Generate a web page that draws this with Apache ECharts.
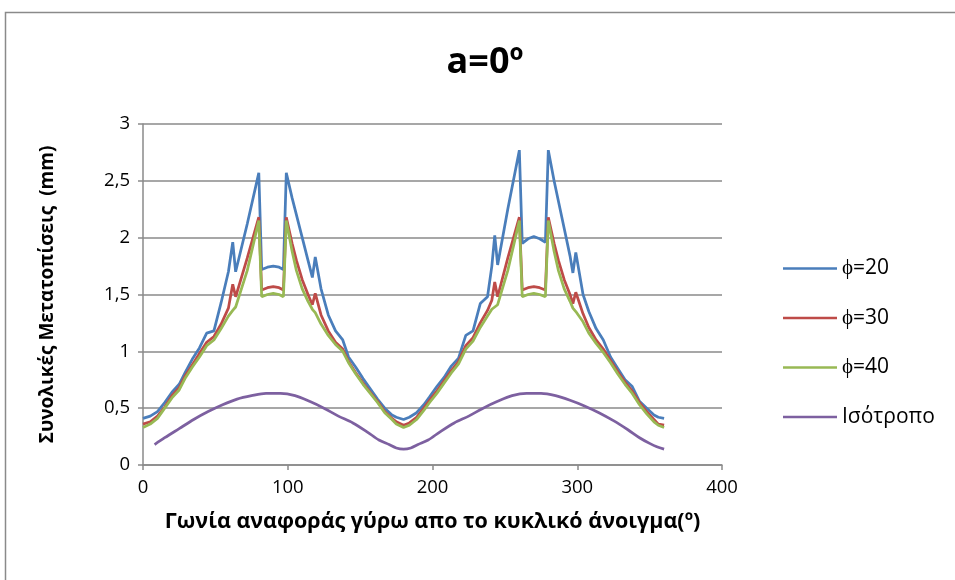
<!DOCTYPE html>
<html>
<head>
<meta charset="utf-8">
<script src="https://cdn.jsdelivr.net/npm/echarts@6/dist/echarts.min.js"></script>
<style>
  html, body { margin: 0; padding: 0; background: #fff; }
  #chart { width: 955px; height: 580px; }
</style>
</head>
<body>
<div id="chart"></div>
<script>
// Reference angle around the circular opening (degrees) for the φ series
const angles = [
  0, 5, 10, 15, 20, 25, 29, 34, 39, 44,
  49, 54, 59, 62, 64, 72, 80, 82, 86, 90,
  94, 97, 99, 103, 106, 110, 114, 117, 119, 123,
  128, 133, 138, 142, 147, 152, 157, 162, 167, 172,
  175, 180,
  184, 189, 194, 198, 203, 208, 213, 218, 223, 228,
  233, 238, 241, 243, 245, 252, 260, 262, 266, 270,
  274, 278, 280, 284, 287, 291, 295, 297, 299, 304,
  308, 313, 318, 323, 328, 333, 338, 343, 348, 353,
  356, 360
];

// Total displacements (mm), φ = 20
const phi20 = [
  0.41, 0.43, 0.47, 0.55, 0.64, 0.71, 0.81, 0.93, 1.03, 1.16,
  1.18, 1.43, 1.70, 1.96, 1.70, 2.12, 2.57, 1.72, 1.74, 1.75,
  1.74, 1.72, 2.57, 2.35, 2.20, 2.00, 1.80, 1.65, 1.83, 1.55,
  1.32, 1.18, 1.10, 0.95, 0.86, 0.76, 0.67, 0.58, 0.50, 0.44,
  0.42, 0.40,
  0.42, 0.46, 0.53, 0.60, 0.69, 0.77, 0.87, 0.94, 1.14, 1.18,
  1.42, 1.48, 1.75, 2.02, 1.76, 2.25, 2.77, 1.95, 1.99, 2.01,
  1.99, 1.96, 2.77, 2.50, 2.32, 2.08, 1.84, 1.69, 1.87, 1.50,
  1.35, 1.20, 1.10, 0.95, 0.85, 0.75, 0.69, 0.56, 0.50, 0.44,
  0.42, 0.41
];

// Total displacements (mm), φ = 30
const phi30 = [
  0.36, 0.38, 0.43, 0.51, 0.61, 0.68, 0.78, 0.88, 0.98, 1.08,
  1.13, 1.24, 1.38, 1.59, 1.48, 1.82, 2.18, 1.54, 1.56, 1.57,
  1.56, 1.54, 2.18, 1.95, 1.80, 1.63, 1.50, 1.41, 1.51, 1.32,
  1.18, 1.08, 1.02, 0.91, 0.81, 0.72, 0.64, 0.56, 0.47, 0.41,
  0.38, 0.35,
  0.37, 0.42, 0.50, 0.57, 0.65, 0.74, 0.83, 0.91, 1.05, 1.12,
  1.25, 1.36, 1.45, 1.61, 1.48, 1.82, 2.18, 1.54, 1.56, 1.57,
  1.56, 1.54, 2.18, 1.95, 1.80, 1.63, 1.50, 1.42, 1.52, 1.33,
  1.21, 1.10, 1.02, 0.92, 0.82, 0.73, 0.65, 0.55, 0.47, 0.40,
  0.36, 0.35
];

// Total displacements (mm), φ = 40
const phi40 = [
  0.33, 0.36, 0.41, 0.50, 0.59, 0.66, 0.76, 0.86, 0.95, 1.05,
  1.10, 1.20, 1.31, 1.36, 1.39, 1.71, 2.15, 1.48, 1.50, 1.51,
  1.50, 1.48, 2.15, 1.88, 1.71, 1.55, 1.44, 1.37, 1.34, 1.24,
  1.14, 1.06, 1.00, 0.90, 0.80, 0.71, 0.63, 0.55, 0.46, 0.40,
  0.36, 0.33,
  0.35, 0.40, 0.48, 0.55, 0.63, 0.72, 0.81, 0.89, 1.02, 1.09,
  1.21, 1.31, 1.37, 1.39, 1.41, 1.71, 2.15, 1.48, 1.50, 1.51,
  1.50, 1.48, 2.15, 1.88, 1.71, 1.55, 1.44, 1.38, 1.35, 1.26,
  1.16, 1.07, 0.99, 0.90, 0.80, 0.71, 0.63, 0.53, 0.45, 0.38,
  0.35, 0.33
];

// Isotropic case: its own angle sampling and displacements (mm)
const isoAngles = [
  8, 15, 25, 35, 45, 55, 65, 75, 85, 95,
  105, 115, 125, 135, 145, 155, 163, 170, 175, 180,
  185, 190, 197, 205, 215, 225, 235, 245, 255, 265,
  275, 285, 295, 305, 315, 325, 335, 343, 350, 355,
  360
];
const isotropic = [
  0.18, 0.24, 0.32, 0.40, 0.47, 0.53, 0.58, 0.61, 0.63, 0.63,
  0.61, 0.56, 0.50, 0.43, 0.37, 0.29, 0.22, 0.18, 0.15, 0.14,
  0.15, 0.18, 0.22, 0.29, 0.37, 0.43, 0.50, 0.56, 0.61, 0.63,
  0.63, 0.61, 0.57, 0.52, 0.46, 0.39, 0.31, 0.24, 0.19, 0.16,
  0.14
];

const seriesNames = ['ϕ=20', 'ϕ=30', 'ϕ=40', 'Ισότροπο'];
const seriesColors = ['#4a7ebb', '#be4b48', '#98b954', '#7d60a0'];
const yTicks = [0, 0.5, 1, 1.5, 2, 2.5, 3];
const xTicks = [0, 100, 200, 300, 400];

const pairs = (xs, ys) => xs.map((x, i) => [x, ys[i]]);
const FONT = 'Open Sans';
const GRID = '#8a8a8a';

const lineSeries = (name, xs, ys, idx, smooth) => ({
  name: name,
  type: 'line',
  data: pairs(xs, ys),
  symbol: 'none',
  smooth: smooth,
  lineStyle: { width: 2.75, color: seriesColors[idx] },
  itemStyle: { color: seriesColors[idx] },
  emphasis: { disabled: true },
  animation: false
});

const chart = echarts.init(document.getElementById('chart'), null, { renderer: 'canvas' });
chart.setOption({
  animation: false,
  backgroundColor: '#fff',
  textStyle: { fontFamily: FONT },
  graphic: [{
    type: 'rect',
    shape: { x: 5.5, y: 12.5, width: 980, height: 620 },
    style: { fill: 'none', stroke: '#8a8a8a', lineWidth: 1.5 },
    silent: true
  }],
  title: {
    text: 'a=0º',
    left: 480,
    textAlign: 'center',
    top: 40,
    textStyle: { fontFamily: FONT, fontSize: 36, fontWeight: 'bold', color: '#000' }
  },
  legend: {
    orient: 'vertical',
    left: 783,
    top: 258,
    padding: 0,
    itemWidth: 54,
    itemHeight: 20,
    itemGap: 28.5,
    icon: 'path://M0,9 L54,9 L54,11.5 L0,11.5 Z',
    data: seriesNames,
    textStyle: { fontFamily: FONT, fontSize: 21, color: '#000' },
    selectedMode: false
  },
  grid: { left: 143, right: 233, top: 124, bottom: 115, containLabel: false },
  xAxis: {
    type: 'value',
    min: 0, max: 400, interval: 100,
    name: 'Γωνία αναφοράς γύρω απο το κυκλικό άνοιγμα(º)',
    nameLocation: 'middle',
    nameGap: 46,
    nameTextStyle: { fontFamily: FONT, fontSize: 21.5, fontWeight: 'bold', color: '#000' },
    axisLine: { show: true, onZero: false, lineStyle: { color: GRID, width: 1.5 } },
    axisTick: { show: true, length: 5, lineStyle: { color: GRID, width: 1.5 } },
    axisLabel: {
      margin: 13, fontFamily: FONT, fontSize: 18.5, color: '#000',
      formatter: v => xTicks.includes(v) ? String(v) : ''
    },
    splitLine: { show: false }
  },
  yAxis: {
    type: 'value',
    min: 0, max: 3, interval: 0.5,
    name: 'Συνολικές Μετατοπίσεις  (mm)',
    nameLocation: 'middle',
    nameGap: 86,
    nameTextStyle: { fontFamily: FONT, fontSize: 19, fontWeight: 'bold', color: '#000' },
    axisLine: { show: true, lineStyle: { color: GRID, width: 1.5 } },
    axisTick: { show: true, length: 5, lineStyle: { color: GRID, width: 1.5 } },
    axisLabel: {
      margin: 13, fontFamily: FONT, fontSize: 18.5, color: '#000',
      formatter: v => yTicks.includes(v) ? String(v).replace('.', ',') : ''
    },
    splitLine: { show: true, lineStyle: { color: GRID, width: 1.5 } }
  },
  series: [
    lineSeries(seriesNames[0], angles, phi20, 0, false),
    lineSeries(seriesNames[1], angles, phi30, 1, false),
    lineSeries(seriesNames[2], angles, phi40, 2, false),
    lineSeries(seriesNames[3], isoAngles, isotropic, 3, 0.3)
  ]
});
</script>
</body>
</html>
